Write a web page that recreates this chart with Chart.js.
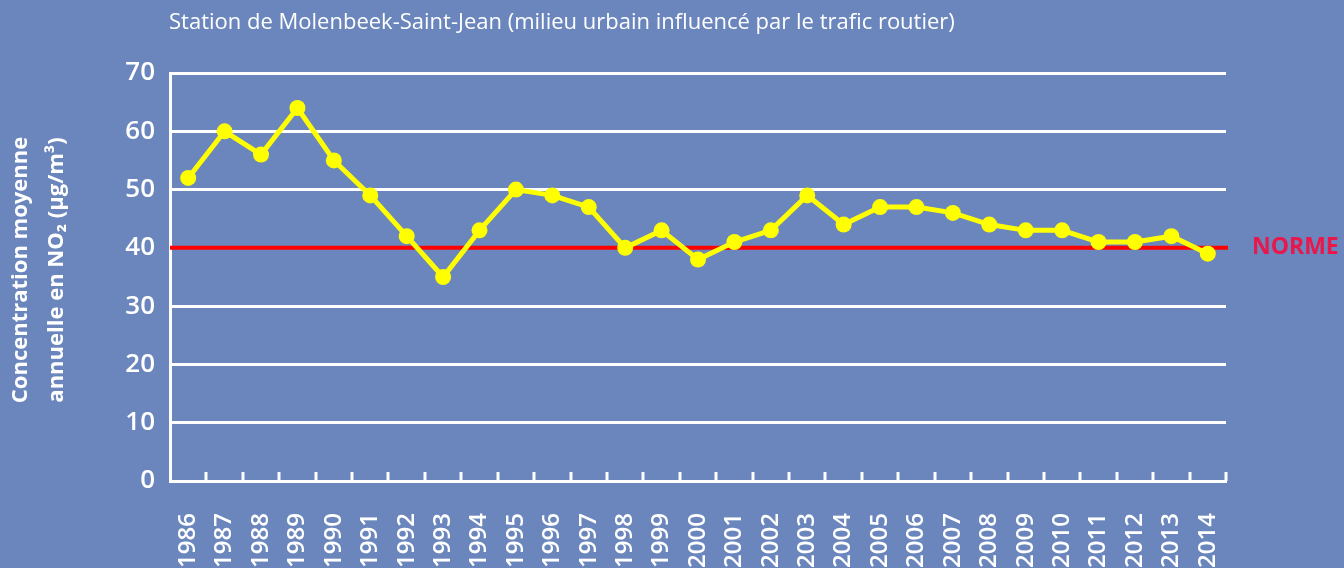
<!DOCTYPE html>
<html>
<head>
<meta charset="utf-8">
<script src="https://cdn.jsdelivr.net/npm/chart.js@4.4.1/dist/chart.umd.min.js"></script>
<style>
    html, body { margin: 0; padding: 0; background: #6a86bd; }
    #wrap { width: 1344px; height: 568px; position: relative; }
</style>
</head>
<body>
<div id="wrap"><canvas id="no2"></canvas></div>
<script>
// Data

const years = ["1986", "1987", "1988", "1989", "1990", "1991", "1992", "1993", "1994", "1995",
    "1996", "1997", "1998", "1999", "2000", "2001", "2002", "2003", "2004", "2005",
    "2006", "2007", "2008", "2009", "2010", "2011", "2012", "2013", "2014"];
const no2Values = [52, 60, 56, 64, 55, 49, 42, 35, 43, 50,
    49, 47, 40, 43, 38, 41, 43, 49, 44, 47,
    47, 46, 44, 43, 43, 41, 41, 42, 39];
const normValue = 40;
const normLabel = "NORME";
const chartTitle = "Station de Molenbeek-Saint-Jean (milieu urbain influencé par le trafic routier)";
const yTitle = ["Concentration moyenne", "annuelle en NO₂ (µg/m³)"];

// Extra drawing: title, y title, norm line + label, inner ticks

const decorations = {
    id: "decorations",
    beforeDatasetsDraw(chart) {
        const { ctx, chartArea, scales } = chart;
        const y = scales.y.getPixelForValue(normValue);
        ctx.save();
        ctx.strokeStyle = "#ff0000";
        ctx.lineWidth = 4;
        ctx.beginPath();
        ctx.moveTo(chartArea.left, y);
        ctx.lineTo(chartArea.right + 2, y);
        ctx.stroke();
        ctx.restore();
    },
    afterDraw(chart) {
        const { ctx, chartArea, scales } = chart;
        ctx.save();

        // small ticks between categories on the bottom axis
        const x = scales.x;
        const step = x.getPixelForTick(1) - x.getPixelForTick(0);
        ctx.strokeStyle = "#ffffff";
        ctx.lineWidth = 3;
        for (let i = 0; i < years.length; i++) {
            const px = Math.round(x.getPixelForTick(i) + step / 2);
            ctx.beginPath();
            ctx.moveTo(px, chartArea.bottom);
            ctx.lineTo(px, chartArea.bottom - 9);
            ctx.stroke();
        }

        // title
        ctx.fillStyle = "#ffffff";
        ctx.font = "22px 'Open Sans'";
        ctx.textAlign = "left";
        ctx.textBaseline = "middle";
        ctx.fillText(chartTitle, 169, 23);

        // y axis title
        ctx.font = "bold 22px 'Open Sans'";
        ctx.textAlign = "center";
        ctx.translate(0, 270);
        ctx.rotate(-Math.PI / 2);
        ctx.fillText(yTitle[0], 0, 21);
        ctx.fillText(yTitle[1], 0, 57);
        ctx.restore();

        // norm label
        ctx.save();
        ctx.fillStyle = "#e8174c";
        ctx.font = "bold 23px 'Open Sans'";
        ctx.textAlign = "left";
        ctx.textBaseline = "middle";
        ctx.fillText(normLabel, 1252, scales.y.getPixelForValue(normValue));
        ctx.restore();
    }
};

const ctx = document.getElementById("no2");

const chart = new Chart(ctx, {
    type: "line",
    data: {
        labels: years,
        datasets: [
        {
            label: "NO2",
            data: no2Values,
            borderColor: "#ffff00",
            backgroundColor: "#ffff00",
            borderWidth: 5,
            pointRadius: 8,
            pointBorderWidth: 0,
            tension: 0,
        },
    ]
    },
    options: {
        responsive: true,
        maintainAspectRatio: false,
        animation: false,
        layout: {
            padding: { top: 73, right: 118, left: 0, bottom: 0 }
        },
        plugins: {
            legend: { display: false },
            tooltip: false,
            title: { display: false },
        },
        scales: {
            x: {
                offset: true,
                grid: { display: false },
                border: { display: true, color: "#ffffff", width: 3 },
                ticks: {
                    color: "#ffffff",
                    font: { family: "'Open Sans'", size: 24, weight: "600" },
                    minRotation: 90,
                    maxRotation: 90,
                    padding: 24,
                    autoSkip: false,
                },
                afterFit(scale) { scale.height = 87; },
            },
            y: {
                min: 0,
                max: 70,
                ticks: {
                    stepSize: 10,
                    color: "#ffffff",
                    font: { family: "'Open Sans'", size: 26, weight: "600" },
                    padding: 15,
                },
                grid: {
                    color: "#ffffff",
                    lineWidth: 3,
                    drawTicks: false,
                },
                border: { display: true, color: "#ffffff", width: 3 },
                afterFit(scale) { scale.width = 170; },
            },
        },
    },
    plugins: [decorations],
});
</script>
</body>
</html>
